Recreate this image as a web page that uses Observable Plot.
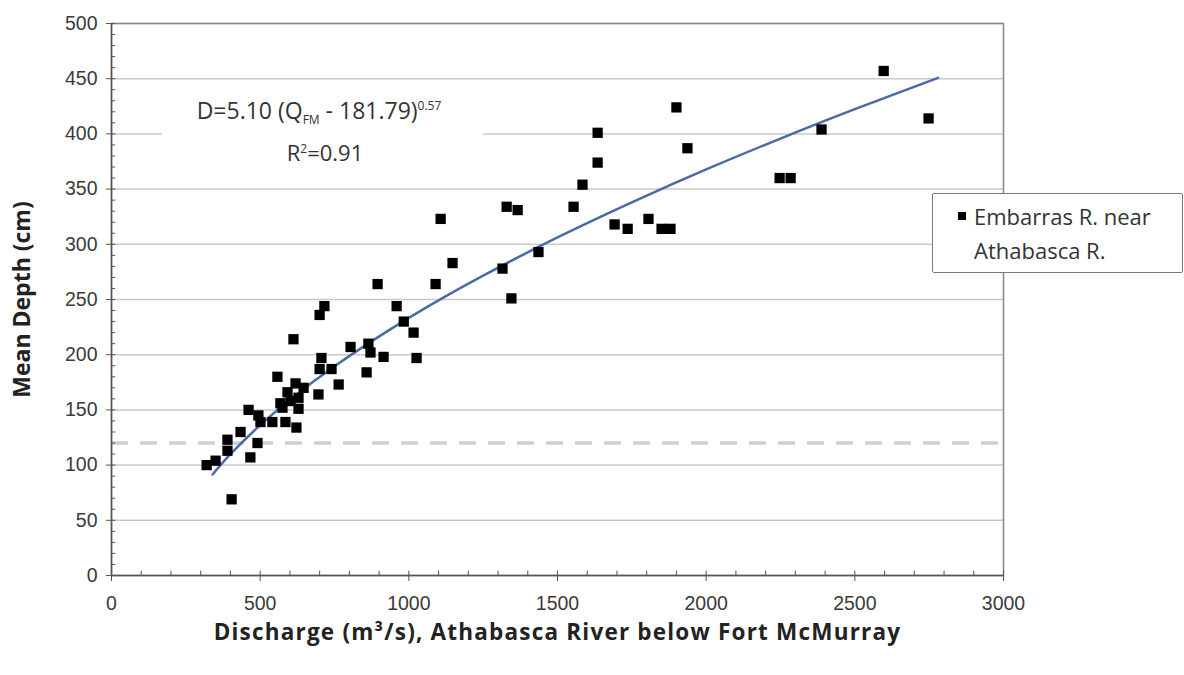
<!DOCTYPE html>
<html>
<head>
<meta charset="utf-8">
<script src="https://cdn.jsdelivr.net/npm/d3@7"></script>
<script src="https://cdn.jsdelivr.net/npm/@observablehq/plot@0.6"></script>
<style>
  html, body { margin: 0; padding: 0; background: #fff; }
  #wrap { position: relative; width: 1184px; height: 675px; overflow: hidden; }
  #eqbg { position: absolute; left: 162px; top: 86px; width: 321px; height: 84px; background: #fff; }
  .eqline { position: absolute; white-space: nowrap; font-family: "Open Sans", "Noto Sans", sans-serif;
            font-size: 22px; color: #333; transform: translate(-50%, -50%); line-height: 1; }
  #eq1 { font-size: 23px; }
  .eqline sub, .eqline sup { font-size: 12px; line-height: 0; }
  #legend { position: absolute; left: 932px; top: 193px; width: 249px; height: 78px; background: #fff;
            border: 1.5px solid #7a7a7a; border-radius: 2px; font-family: "Open Sans", "Noto Sans", sans-serif;
            font-size: 22px; color: #333; }
  #legend .sw { position: absolute; left: 25px; top: 18px; width: 8px; height: 8px; background: #000; }
  #legend .t { position: absolute; left: 41px; top: 5px; line-height: 34px; white-space: nowrap; }
</style>
</head>
<body>
<div id="wrap"></div>
<script>
// Observed points: discharge (m³/s) and mean depth (cm)
const discharge = [320, 350, 390, 390, 404, 434, 461, 467, 491, 494, 501, 541, 585, 622,
  558, 568, 592, 602, 619, 629, 629, 646, 575, 612, 696, 700, 706, 740, 764, 700, 716,
  804, 858, 864, 871, 895, 915, 959, 983, 1016, 1026, 1090, 1107, 1147, 1315, 1329, 1345,
  1366, 1436, 1554, 1584, 1635, 1635, 1692, 1736, 1806, 1850, 1880, 1900, 1937, 2247,
  2284, 2388, 2597, 2748];
const depth = [100, 104, 123, 113, 69, 130, 150, 107, 120, 145, 139, 139, 139, 134,
  180, 156, 166, 158, 174, 161, 151, 170, 152, 214, 164, 187, 197, 187, 173, 236, 244,
  207, 184, 210, 202, 264, 198, 244, 230, 220, 197, 264, 323, 283, 278, 334, 251,
  331, 293, 334, 354, 401, 374, 318, 314, 323, 314, 314, 424, 387, 360,
  360, 404, 457, 414];

// Fitted curve D = 5.10 (Q - 181.79)^0.57
const fitQ = [340, 400, 500, 600, 750, 1000, 1250, 1500, 1750, 2000, 2250, 2500, 2780];
const fitD = [91.5, 109.9, 136.2, 159.1, 189.5, 233.3, 271.6, 306.2, 338.0, 367.8, 395.8, 422.4, 450.8];

const refDepth = [120];
const xTicks = [0, 500, 1000, 1500, 2000, 2500, 3000];
const yTicks = [0, 50, 100, 150, 200, 250, 300, 350, 400, 450, 500];
const xMinor = d3.range(0, 3001, 100);
const yMinor = d3.range(0, 501, 10);

const points = discharge.map((q, i) => ({q, d: depth[i]}));
const fit = fitQ.map((q, i) => ({q, d: fitD[i]}));

const xTitle = "Discharge (m³/s), Athabasca River below Fort McMurray";

const chart = Plot.plot({
  width: 1184,
  height: 675,
  marginLeft: 111,
  marginRight: 181,
  marginTop: 23,
  marginBottom: 100,
  x: {domain: [0, 3000]},
  y: {domain: [0, 500]},
  style: {fontFamily: "'Liberation Sans', Arial, sans-serif", fontSize: "19.5px", color: "#3a3a3a", background: "#fff"},
  marks: [
    Plot.gridY(yTicks.filter(v => v > 0), {stroke: "#c9c9c9", strokeOpacity: 1, strokeWidth: 1.5}),
    Plot.ruleY(refDepth, {stroke: "#cfcfcf", strokeWidth: 3.5, strokeDasharray: "17,12"}),
    Plot.frame({stroke: "#858585", strokeWidth: 1.5}),
    Plot.ruleX([0], {stroke: "#555", strokeWidth: 1.5}),
    Plot.ruleY([0], {stroke: "#555", strokeWidth: 1.5}),
    Plot.ruleY(yMinor, {x1: 0, x2: 14, stroke: "#555", strokeWidth: 1}),
    Plot.ruleX(xMinor, {y1: 0, y2: 4, stroke: "#555", strokeWidth: 1}),
    Plot.axisY(yTicks, {anchor: "left", tickSize: 5, tickPadding: 9, label: null, stroke: "#555",
      tickFormat: d => String(d)}),
    Plot.axisX(xTicks, {anchor: "bottom", tickSize: 6, tickPadding: 15, label: null, stroke: "#555",
      tickFormat: d => String(d)}),
    Plot.line(fit, {x: "q", y: "d", stroke: "#4a6aa6", strokeWidth: 2.5, curve: "natural"}),
    Plot.dot(points, {x: "q", y: "d", symbol: "square", r: 5.8, fill: "#000", stroke: null}),
    Plot.text(["Mean Depth (cm)"], {frameAnchor: "left", textAnchor: "middle", rotate: -90, dx: -89,
      fontFamily: "'Open Sans', 'Noto Sans', sans-serif", fontWeight: "bold", fontSize: 23, fill: "#222"}),
    Plot.text([xTitle], {frameAnchor: "bottom", textAnchor: "middle", dy: 64,
      fontFamily: "'Open Sans', 'Noto Sans', sans-serif", fontWeight: "bold", fontSize: 22.5, fill: "#222"})
  ]
});

d3.select(chart).selectAll("text")
  .filter(function() { return this.textContent === xTitle; })
  .attr("letter-spacing", "1.2px");

const wrap = document.getElementById("wrap");
wrap.appendChild(chart);

const eqbg = document.createElement("div");
eqbg.id = "eqbg";
wrap.appendChild(eqbg);

const eq1 = document.createElement("div");
eq1.className = "eqline";
eq1.id = "eq1";
eq1.style.left = "319px"; eq1.style.top = "110px";
eq1.innerHTML = 'D=5.10 (Q<sub>FM</sub> - 181.79)<sup>0.57</sup>';
wrap.appendChild(eq1);

const eq2 = document.createElement("div");
eq2.className = "eqline";
eq2.style.left = "325px"; eq2.style.top = "152px";
eq2.innerHTML = 'R<sup>2</sup>=0.91';
wrap.appendChild(eq2);

const legend = document.createElement("div");
legend.id = "legend";
legend.innerHTML = '<div class="sw"></div><div class="t">Embarras R. near<br>Athabasca R.</div>';
wrap.appendChild(legend);
</script>
</body>
</html>
